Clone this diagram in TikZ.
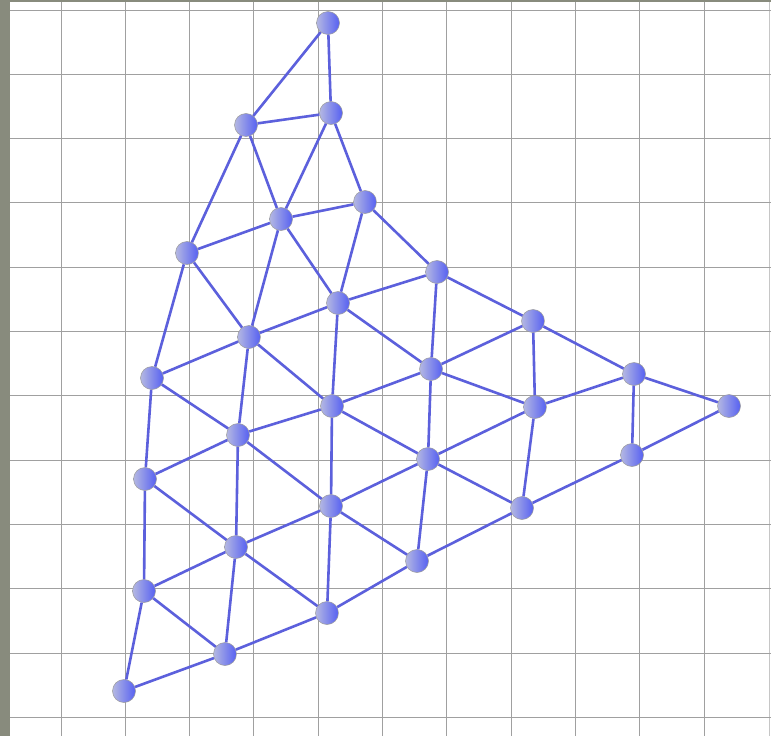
\documentclass[tikz,border=0pt]{standalone}
\usetikzlibrary{shadings}
\definecolor{edgeblue}{RGB}{92,96,220}
\definecolor{gridgray}{RGB}{160,160,160}
\definecolor{bandgray}{RGB}{136,139,125}
\definecolor{ballL}{RGB}{180,184,226}
\definecolor{ballR}{RGB}{86,96,242}
\tikzset{
  ball/.style={circle, minimum size=23pt, inner sep=0pt, left color=ballL, right color=ballR, draw=gray!80, line width=0.5pt},
  edge/.style={draw=edgeblue, line width=2.6pt},
  gridline/.style={draw=gridgray, line width=1pt}
}
\begin{document}
\begin{tikzpicture}[x=1pt,y=-1pt]
\useasboundingbox (0,0) rectangle (771,736);
\fill[white] (0,0) rectangle (771,736);
\fill[bandgray] (0,0) rectangle (10,736);
\fill[bandgray] (0,0) rectangle (771,2);
\foreach \k in {0,...,10} {\draw[gridline] ({61+64.3*\k},2) -- ({61+64.3*\k},736);}
\draw[gridline, draw=gridgray!60] (769,2) -- (769,736);
\foreach \k in {0,...,11} {\draw[gridline] (10,{10+64.3*\k}) -- (771,{10+64.3*\k});}
% nodes
\node[ball] (n1) at (328,23) {};
\node[ball] (n2) at (331,113) {};
\node[ball] (n3) at (246,125) {};
\node[ball] (n4) at (281,219) {};
\node[ball] (n5) at (365,202) {};
\node[ball] (n6) at (187,253) {};
\node[ball] (n7) at (437,272) {};
\node[ball] (n8) at (338,303) {};
\node[ball] (n9) at (533,321) {};
\node[ball] (n10) at (249,337) {};
\node[ball] (n11) at (152,378) {};
\node[ball] (n12) at (431,369) {};
\node[ball] (n13) at (634,374) {};
\node[ball] (n14) at (729,406) {};
\node[ball] (n15) at (535,407) {};
\node[ball] (n16) at (332,406) {};
\node[ball] (n17) at (238,435) {};
\node[ball] (n18) at (428,459) {};
\node[ball] (n19) at (632,455) {};
\node[ball] (n20) at (145,479) {};
\node[ball] (n21) at (331,506) {};
\node[ball] (n22) at (522,508) {};
\node[ball] (n23) at (236,547) {};
\node[ball] (n24) at (417,561) {};
\node[ball] (n25) at (144,591) {};
\node[ball] (n26) at (327,613) {};
\node[ball] (n27) at (225,654) {};
\node[ball] (n28) at (124,691) {};
% edges
\foreach \a/\b in {1/3,1/2,3/2,3/6,3/4,2/4,2/5,4/5,6/4,6/10,6/11,4/10,4/8,5/8,5/7,8/7,8/10,8/12,8/16,7/12,7/9,10/11,10/16,10/17,11/17,11/20,12/16,12/9,12/15,12/18,9/15,9/13,15/13,15/18,15/22,13/14,13/19,14/19,19/22,16/17,16/18,16/21,17/20,17/21,17/23,18/21,18/22,18/24,20/23,20/25,21/23,21/24,21/26,22/24,23/25,23/26,23/27,24/26,25/27,25/28,26/27,27/28}
  {\draw[edge] (n\a) -- (n\b);}
\end{tikzpicture}
\end{document}
